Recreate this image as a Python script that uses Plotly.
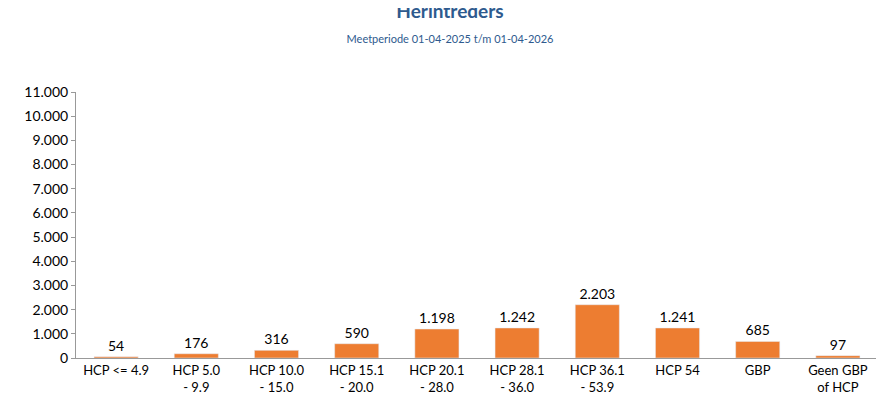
import plotly.graph_objects as go

categories = ["HCP <= 4.9", "HCP 5.0<br>- 9.9", "HCP 10.0<br>- 15.0", "HCP 15.1<br>- 20.0",
              "HCP 20.1<br>- 28.0", "HCP 28.1<br>- 36.0", "HCP 36.1<br>- 53.9", "HCP 54",
              "GBP", "Geen GBP<br>of HCP"]
values = [54, 176, 316, 590, 1198, 1242, 2203, 1241, 685, 97]

fig = go.Figure(go.Bar(
    x=categories, y=values, marker_color="#ED7D31", width=0.55,
    texttemplate="%{y:,}", textposition="outside",
    textfont=dict(size=14, color="#000"), cliponaxis=False))

fig.update_layout(
    width=884, height=415, separators=",.",
    paper_bgcolor="white", plot_bgcolor="white",
    font=dict(family="Lato, Open Sans, sans-serif", size=14, color="#000"),
    margin=dict(l=68, r=14, t=84, b=65, autoexpand=False),
    showlegend=False,
    title=dict(text="<b>Herintreders</b><br><span style='font-size:11px'>Meetperiode 01-04-2025 t/m 01-04-2026</span>",
               x=0.5, xanchor="center", y=0.975, yanchor="top",
               font=dict(size=19, color="#2E5A8E")),
    xaxis=dict(showline=True, linecolor="#999", ticks="", tickfont=dict(size=13)),
    yaxis=dict(range=[0, 11000], dtick=1000, tickformat=",", showgrid=False,
               showline=True, linecolor="#999", ticks="outside", ticklen=4,
               tickcolor="#999", tickfont=dict(size=14)),
)
fig.write_html("out.html")
